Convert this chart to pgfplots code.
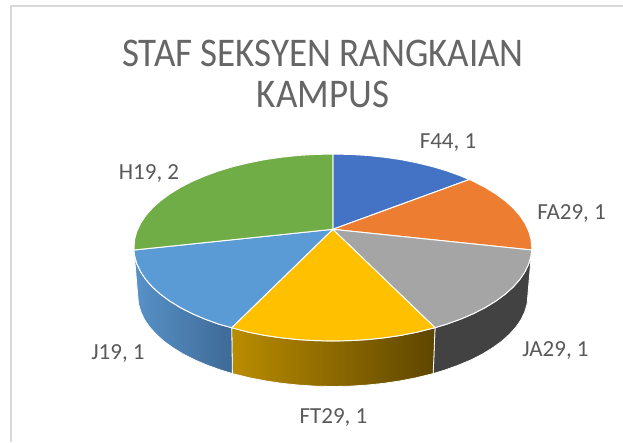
\documentclass[border=0pt]{standalone}
\usepackage{fontspec}
\setmainfont{Carlito}
\usepackage{graphicx}
\usepackage{pgfplots}
\pgfplotsset{compat=1.18}
\definecolor{tc}{HTML}{595959}
\definecolor{ttc}{HTML}{666666}
\tikzset{lbl/.style={font=\fontsize{23}{25}\selectfont, text=tc, anchor=center, inner sep=0pt},
 ttl/.style={font=\fontsize{37}{37}\selectfont, text=ttc, anchor=center, inner sep=0pt}}
\begin{document}
\begin{tikzpicture}
\begin{axis}[
  scale only axis, width=623pt, height=442pt,
  xmin=0, xmax=623, ymin=0, ymax=442, y dir=reverse,
  hide axis, clip=true,
  every axis plot/.append style={line join=round}
]
\path (axis cs:0,0) rectangle (axis cs:623,442);
% frame
\addplot[draw=black!15, line width=2pt, mark=none] coordinates {(11,442) (11,5.5) (623,5.5)};
% side walls
\addplot[draw=white, line width=0.8pt, fill=black!74, mark=none] coordinates {
(531.7,250) (527.8,296) (527.1,303.9) (524.8,311.7) (521.2,319.4) (516,327) (509.5,334.2) (501.7,341.25) (492.5,347.9) (482.2,354.2) (470.7,360) (458.1,365.3) (444.7,370.1) (433.2,373.6)
(435,327.7) (446.9,324.1) (460.7,319.1) (473.5,313.6) (485.2,307.6) (495.8,301.1) (505.1,294.25) (513.2,287) (519.8,279.5) (525,271.7) (528.8,263.7) (531,255.7) (531.7,250)};
\addplot[draw=white, line width=0.8pt, left color={rgb,255:red,186;green,140;blue,0}, right color={rgb,255:red,94;green,70;blue,0}, mark=none] coordinates {
(435,327.7) (433.2,373.6) (415.2,378) (399.5,381) (383.3,383.4) (366.7,385.1) (349.8,386.2) (332.8,386.5) (315.8,386.2) (298.9,385.1) (282.3,383.4) (266.1,381) (250.4,378) (232.4,373.6)
(231.7,327.7) (248.7,332.2) (264.7,335.4) (281.3,337.8) (298.2,339.6) (315.4,340.6) (332.8,341) (350.2,340.6) (367.4,339.6) (384.3,337.8) (400.9,335.4) (416.9,332.2) (435,327.7)};
\addplot[draw=white, line width=0.8pt, left color={rgb,255:red,88;green,146;blue,200}, right color={rgb,255:red,62;green,106;blue,150}, mark=none] coordinates {
(231.7,327.7) (232.4,373.6) (220.9,370.1) (207.5,365.3) (194.9,360) (183.4,354.2) (173.1,347.9) (163.9,341.25) (156.1,334.2) (149.6,327) (144.4,319.4) (140.8,311.7) (138.5,303.9) (137.8,296) (133.9,250)
(134.6,255.7) (136.8,263.7) (140.6,271.7) (145.8,279.5) (152.4,287) (160.5,294.25) (169.8,301.1) (180.4,307.6) (192.1,313.6) (204.9,319.1) (218.7,324.1) (231.7,327.7)};
% top slices
\addplot[draw=white, line width=1pt, fill={rgb,255:red,68;green,114;blue,196}, mark=none] coordinates {
(332.8,229.3) (332.8,154) (350.2,154.4) (367.4,155.4) (384.3,157.2) (400.9,159.6) (416.9,162.8) (432.3,166.5) (446.9,170.9) (460.7,175.9) (469.3,179.5) (332.8,229.3)};
\addplot[draw=white, line width=1pt, fill={rgb,255:red,237;green,125;blue,49}, mark=none] coordinates {
(332.8,229.3) (469.3,179.5) (473.5,181.4) (485.2,187.4) (495.8,193.9) (505.1,200.75) (513.2,208) (519.8,215.5) (525,223.3) (528.8,231.3) (531,239.3) (531.8,247.5) (531.7,250) (332.8,229.3)};
\addplot[draw=white, line width=1pt, fill={rgb,255:red,165;green,165;blue,165}, mark=none] coordinates {
(332.8,229.3) (531.7,250) (531,255.7) (528.8,263.7) (525,271.7) (519.8,279.5) (513.2,287) (505.1,294.25) (495.8,301.1) (485.2,307.6) (473.5,313.6) (460.7,319.1) (446.9,324.1) (435,327.7) (332.8,229.3)};
\addplot[draw=white, line width=1pt, fill={rgb,255:red,255;green,192;blue,0}, mark=none] coordinates {
(332.8,229.3) (435,327.7) (416.9,332.2) (400.9,335.4) (384.3,337.8) (367.4,339.6) (350.2,340.6) (332.8,341) (315.4,340.6) (298.2,339.6) (281.3,337.8) (264.7,335.4) (248.7,332.2) (231.7,327.7) (332.8,229.3)};
\addplot[draw=white, line width=1pt, fill={rgb,255:red,91;green,155;blue,213}, mark=none] coordinates {
(332.8,229.3) (231.7,327.7) (218.7,324.1) (204.9,319.1) (192.1,313.6) (180.4,307.6) (169.8,301.1) (160.5,294.25) (152.4,287) (145.8,279.5) (140.6,271.7) (136.8,263.7) (134.6,255.7) (133.9,250) (332.8,229.3)};
\addplot[draw=white, line width=1pt, fill={rgb,255:red,112;green,173;blue,71}, mark=none] coordinates {
(332.8,229.3) (133.9,250) (134.6,239.3) (136.8,231.3) (140.6,223.3) (145.8,215.5) (152.4,208) (160.5,200.75) (169.8,193.9) (180.4,187.4) (192.1,181.4) (204.9,175.9) (218.7,170.9) (233.3,166.5) (248.7,162.8) (264.7,159.6) (281.3,157.2) (298.2,155.4) (315.4,154.4) (332.8,154) (332.8,229.3)};
% texts
\node[ttl] at (axis cs:323,53) {\scalebox{1}[1.1]{STAF SEKSYEN RANGKAIAN}};
\node[ttl] at (axis cs:323,94) {\scalebox{1}[1.1]{KAMPUS}};
\node[lbl] at (axis cs:448,143) {F44, 1};
\node[lbl] at (axis cs:571.5,214) {FA29, 1};
\node[lbl] at (axis cs:555.5,350.5) {JA29, 1};
\node[lbl] at (axis cs:333.5,417.5) {FT29, 1};
\node[lbl] at (axis cs:118,353.5) {J19, 1};
\node[lbl] at (axis cs:149,174) {H19, 2};
\end{axis}
\end{tikzpicture}
\end{document}
